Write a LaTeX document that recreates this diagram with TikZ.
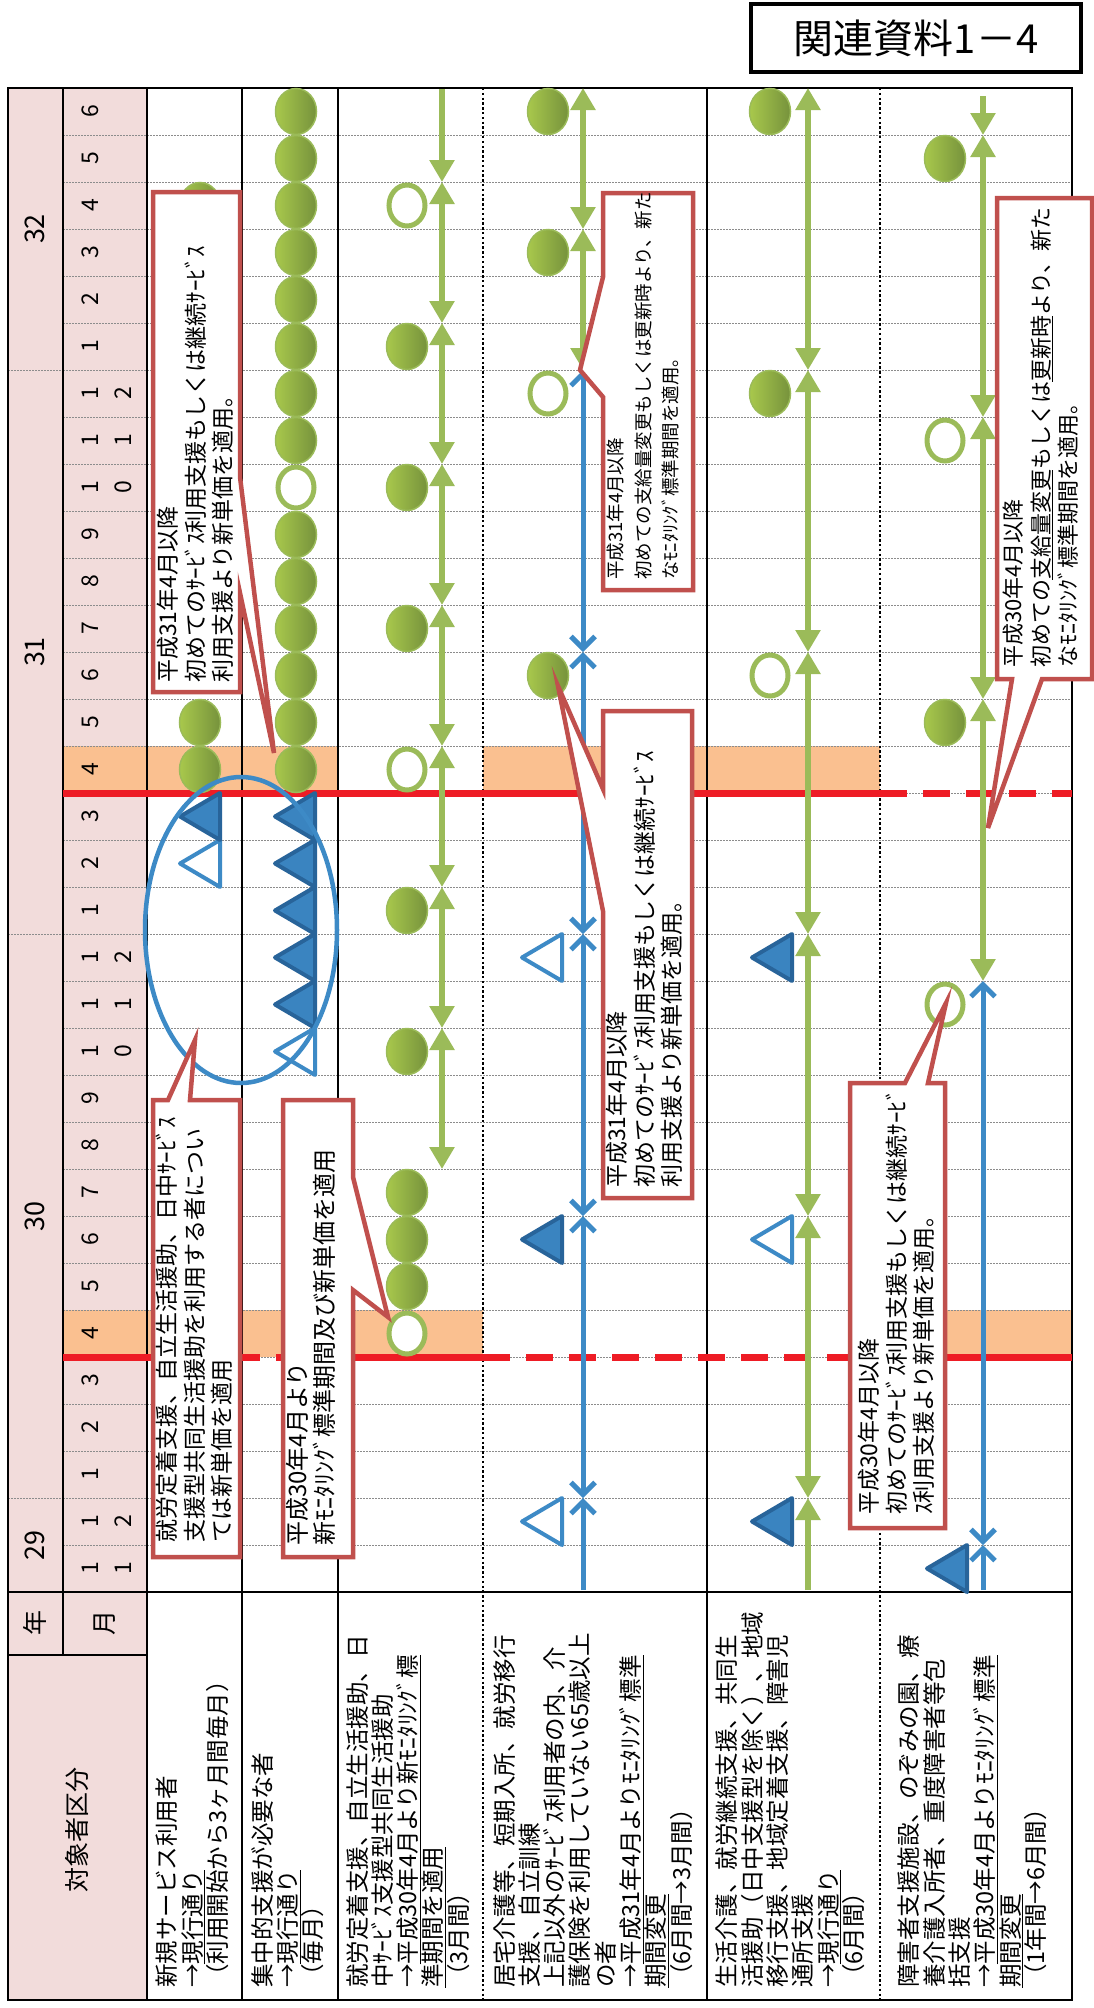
\documentclass[tikz,border=0pt]{standalone}
\usepackage{fontspec}
\setmainfont{Noto Sans CJK JP}
\usepackage{tikz}
\usetikzlibrary{arrows.meta,shapes.geometric}
\definecolor{PinkHead}{HTML}{F2DCDB}
\definecolor{OrangeBand}{HTML}{FAC090}
\definecolor{RedLine}{HTML}{EE1C25}
\definecolor{CalloutRed}{HTML}{C0504D}
\definecolor{GreenMark}{HTML}{9BBB59}
\definecolor{GreenLight}{HTML}{A8C84C}
\definecolor{GreenDark}{HTML}{76923C}
\definecolor{BlueArrow}{HTML}{3D8AC6}
\definecolor{BlueFill}{HTML}{3A84C0}
\definecolor{BlueDark}{HTML}{28649A}
\newcommand{\Ym}[1]{1592-47*(#1)}

\begin{document}
\begin{tikzpicture}[x=1pt, y=-1pt,
    tframe/.style={line width=2.6pt},
    sepdot/.style={line width=2.4pt, dash pattern=on 2.4pt off 2.4pt},
    mline/.style={black!45, line width=0.8pt, dash pattern=on 2pt off 1pt},
    redsolid/.style={RedLine, line width=7pt},
    reddash/.style={RedLine, line width=7pt, dash pattern=on 27pt off 16pt},
    cat/.style={rotate=90, anchor=north west, align=left, inner sep=0pt,
                font=\fontsize{23.5}{25.3}\selectfont},
    hdr/.style={rotate=90, inner sep=0pt, font=\fontsize{25}{25}\selectfont},
    mlab/.style={rotate=90, inner sep=0pt, font=\fontsize{23}{23}\selectfont},
    note/.style={rotate=90, anchor=north west, align=left, inner sep=0pt,
                 font=\fontsize{#1}{27.5}\selectfont},
    note/.default=23,
    callout/.style={draw=CalloutRed, fill=white, line width=4.5pt},
    fcirc/.style={ellipse, minimum width=41pt, minimum height=46pt, inner sep=0pt,
                  left color=GreenLight, right color=GreenDark, draw=GreenMark, line width=1.5pt},
    ocirc/.style={ellipse, minimum width=36pt, minimum height=41pt, inner sep=0pt,
                  fill=white, draw=GreenMark, line width=5pt},
    ftri/.style={fill=BlueFill, draw=BlueDark, line width=4pt, line join=round},
    otri/.style={fill=white, draw=BlueArrow, line width=4pt, line join=round},
    garr/.style={GreenMark, line width=6.5pt},
    barr/.style={BlueArrow, line width=5pt},
    gtip/.tip={Triangle[length=22pt,width=24pt]},
    btip/.tip={Straight Barb[length=12pt,width=24pt]}]

  \useasboundingbox (0,0) rectangle (1093,2008);
  \fill[white] (0,0) rectangle (1093,2008);

  % header columns and bands
  \fill[PinkHead] (8,88) rectangle (147,2000);
  \fill[OrangeBand] (63,{\Ym{6}}) rectangle (483,{\Ym{5}});
  \fill[OrangeBand] (880,{\Ym{6}}) rectangle (1072,{\Ym{5}});
  \fill[OrangeBand] (63,{\Ym{18}}) rectangle (338,{\Ym{17}});
  \fill[OrangeBand] (483,{\Ym{18}}) rectangle (880,{\Ym{17}});

  \foreach \k in {1,...,31}
    \draw[mline] (63,{\Ym{\k}}) -- (1072,{\Ym{\k}});
  \foreach \k in {2,14,26}
    \draw[mline] (8,{\Ym{\k}}) -- (63,{\Ym{\k}});

  \draw[tframe] (8,88) rectangle (1072,2000);
  \draw[tframe] (63,88) -- (63,1655);
  \foreach \x in {147,242,338,707}
    \draw[tframe] (\x,88) -- (\x,2000);
  \foreach \x in {483,880}
    \draw[sepdot] (\x,88) -- (\x,2000);
  \draw[tframe] (8,1592) -- (1072,1592);
  \draw[tframe] (8,1655) -- (147,1655);

  \draw[redsolid] (63,{\Ym{5}}) -- (147,{\Ym{5}});
  \draw[reddash] (147,{\Ym{5}}) -- (338,{\Ym{5}});
  \draw[redsolid] (338,{\Ym{5}}) -- (483,{\Ym{5}});
  \draw[reddash] (483,{\Ym{5}}) -- (880,{\Ym{5}});
  \draw[redsolid] (880,{\Ym{5}}) -- (1072,{\Ym{5}});
  \draw[redsolid] (63,{\Ym{17}}) -- (880,{\Ym{17}});
  \draw[reddash] (880,{\Ym{17}}) -- (1072,{\Ym{17}});

  % header texts
  \node[hdr] (nen) at (35,1623) {年};
  \node[hdr] (tsuki) at (105,1623) {月};
  \node[hdr] (kubun) at (77,1830) {対象者区分};
  \foreach \yy/\c in {29/1,30/8,31/20,32/29}
    \node[hdr, font=\fontsize{27}{27}\selectfont] (yr\yy) at (35,{\Ym{\c}}) {\yy};
  \foreach \k/\d in {0/1,1/1,2/1,3/2,4/3,5/4,6/5,7/6,8/7,9/8,10/9,11/1,12/1,13/1,
                     14/1,15/2,16/3,17/4,18/5,19/6,20/7,21/8,22/9,23/1,24/1,25/1,
                     26/1,27/2,28/3,29/4,30/5,31/6}
    \node[mlab] (m\k) at (90,{\Ym{\k+0.5}}) {\d};
  \foreach \k/\d in {0/1,1/2,11/0,12/1,13/2,23/0,24/1,25/2}
    \node[mlab] (mm\k) at (123,{\Ym{\k+0.5}}) {\d};

  \node[cat] (catA) at (156,1988) {新規サービス利用者\\→\underline{現行通り}\\（利用開始から3ヶ月間毎月）};
  \node[cat] (catB) at (251,1988) {集中的支援が必要な者\\→\underline{現行通り}\\（毎月）};
  \node[cat] (catC) at (346,1988) {就労定着支援、自立生活援助、日\\中ｻｰﾋﾞｽ支援型共同生活援助\\→\underline{平成30年4月より新ﾓﾆﾀﾘﾝｸﾞ標}\\\underline{準期間を適用}\\（3月間）};
  \node[cat] (catD) at (493,1988) {居宅介護等、短期入所、就労移行\\支援、自立訓練\\上記以外のｻｰﾋﾞｽ利用者の内、介\\護保険を利用していない65歳以上\\の者\\→\underline{平成31年4月よりﾓﾆﾀﾘﾝｸﾞ標準}\\\underline{期間変更}\\（6月間→3月間）};
  \node[cat] (catE) at (716,1988) {生活介護、就労継続支援、共同生\\活援助（日中支援型を除く）、地域\\移行支援、地域定着支援、障害児\\通所支援\\→\underline{現行通り}\\（6月間）};
  \node[cat] (catF) at (898,1988) {障害者支援施設、のぞみの園、療\\養介護入所者、重度障害者等包\\括支援\\→\underline{平成30年4月よりﾓﾆﾀﾘﾝｸﾞ標準}\\\underline{期間変更}\\（1年間→6月間）};

  % monitoring arrows
  \foreach \a/\b in {9/12,12/15,15/18,18/21,21/24,24/27,27/30}
    \draw[garr, gtip-gtip] (442,{\Ym{\a}}) -- (442,{\Ym{\b}});
  \draw[garr, -gtip] (442,89) -- (442,{\Ym{30}});

  \draw[barr, -btip] (583,1590) -- (583,{\Ym{2}});
  \foreach \a/\b in {2/8,8/14,14/20,20/26}
    \draw[barr, btip-btip] (583,{\Ym{\a}}) -- (583,{\Ym{\b}});
  \foreach \a/\b in {26/29,29/32}
    \draw[garr, gtip-gtip] (583,{\Ym{\a}}) -- (583,{\Ym{\b}});

  \draw[garr, -gtip] (808,1590) -- (808,{\Ym{2}});
  \foreach \a/\b in {2/8,8/14,14/20,20/26,26/32}
    \draw[garr, gtip-gtip] (808,{\Ym{\a}}) -- (808,{\Ym{\b}});

  \draw[barr, -btip] (983,1590) -- (983,{\Ym{1}});
  \draw[barr, btip-btip] (983,{\Ym{1}}) -- (983,{\Ym{13}});
  \foreach \a/\b in {13/19,19/25,25/31}
    \draw[garr, gtip-gtip] (983,{\Ym{\a}}) -- (983,{\Ym{\b}});
  \draw[garr, -gtip] (983,96) -- (983,{\Ym{31}});

  % markers
  \foreach \bx/\k/\s in {220/15/otri,220/16/ftri,315/11/otri,315/12/ftri,315/13/ftri,
                         315/14/ftri,315/15/ftri,315/16/ftri,562/1/otri,562/7/ftri,
                         562/13/otri,792/1/ftri,792/7/otri,792/13/ftri,967/0/ftri}
    \draw[\s] (\bx,{\Ym{\k}}) -- (\bx,{\Ym{\k+1}}) -- (\bx-40,{\Ym{\k+0.5}}) -- cycle;

  \foreach \r/\cx/\k/\s in {A/200/17/fcirc,A/200/18/fcirc,A/200/29/fcirc,
                            B/296/17/fcirc,B/296/18/fcirc,B/296/19/fcirc,B/296/20/fcirc,
                            B/296/21/fcirc,B/296/22/fcirc,B/296/23/ocirc,B/296/24/fcirc,
                            B/296/25/fcirc,B/296/26/fcirc,B/296/27/fcirc,B/296/28/fcirc,
                            B/296/29/fcirc,B/296/30/fcirc,B/296/31/fcirc,
                            C/407/5/ocirc,C/407/6/fcirc,C/407/7/fcirc,C/407/8/fcirc,
                            C/407/11/fcirc,C/407/14/fcirc,C/407/17/ocirc,C/407/20/fcirc,
                            C/407/23/fcirc,C/407/26/fcirc,C/407/29/ocirc,
                            D/548/19/fcirc,D/548/25/ocirc,D/548/28/fcirc,D/548/31/fcirc,
                            E/770/19/ocirc,E/770/25/fcirc,E/770/31/fcirc,
                            F/945/12/ocirc,F/945/18/fcirc,F/945/24/ocirc,F/945/30/fcirc}
    \node[\s] (\r\k) at (\cx,{\Ym{\k+0.5}}) {};

  \draw[BlueArrow, line width=4.5pt] (241,930) ellipse [x radius=96, y radius=153];

  % callouts
  \draw[callout] (153,1100) -- (168,1100) -- (195,1040) -- (190,1100) -- (240,1100)
    -- (240,1557) -- (153,1557) -- cycle;
  \node[note] (t1) at (156,1543) {就労定着支援、自立生活援助、日中ｻｰﾋﾞｽ\\支援型共同生活援助を利用する者につい\\ては新単価を適用};

  \draw[callout] (283,1100) -- (353,1100) -- (353,1177) -- (388,1317) -- (353,1290)
    -- (353,1557) -- (283,1557) -- cycle;
  \node[note=24] (t2) at (286,1546) {平成30年4月より\\新ﾓﾆﾀﾘﾝｸﾞ標準期間及び新単価を適用};

  \draw[callout] (153,192) -- (240,192) -- (240,477) -- (274,753) -- (240,593)
    -- (240,692) -- (153,692) -- cycle;
  \node[note] (t3) at (157,683) {平成31年4月以降\\初めてのｻｰﾋﾞｽ利用支援もしくは継続ｻｰﾋﾞｽ\\利用支援より新単価を適用。};

  \draw[callout] (603,711) -- (692,711) -- (692,1198) -- (603,1198) -- (603,911)
    -- (558,686) -- (603,789) -- cycle;
  \node[note] (t4) at (606,1188) {平成31年4月以降\\初めてのｻｰﾋﾞｽ利用支援もしくは継続ｻｰﾋﾞｽ\\利用支援より新単価を適用。};

  \draw[callout] (603,193) -- (693,193) -- (693,590) -- (603,590) -- (603,397)
    -- (580,370) -- (603,277) -- cycle;
  \node[note=18.5] (t5) at (607,580) {平成31年4月以降\\初めての支給量変更もしくは更新時より、新た\\なﾓﾆﾀﾘﾝｸﾞ標準期間を適用。};

  \draw[callout] (997,198) -- (1092,198) -- (1092,679) -- (1042,679) -- (988,828)
    -- (1012,679) -- (997,679) -- cycle;
  \node[note=22] (t6) at (1003,668) {平成30年4月以降\\初めての\underline{支給量変更}もしくは\underline{更新時}より、新た\\なﾓﾆﾀﾘﾝｸﾞ標準期間を適用。};

  \draw[callout] (850,1083) -- (905,1083) -- (946,1003) -- (928,1083) -- (945,1083)
    -- (945,1528) -- (850,1528) -- cycle;
  \node[note] (t7) at (858,1515) {平成30年4月以降\\初めてのｻｰﾋﾞｽ利用支援もしくは継続ｻｰﾋﾞ\\ｽ利用支援より新単価を適用。};

  \node[draw, line width=4pt, minimum width=330pt, minimum height=68pt,
        font=\fontsize{40}{40}\selectfont] (title) at (916,38) {関連資料1－4};
\end{tikzpicture}
\end{document}
